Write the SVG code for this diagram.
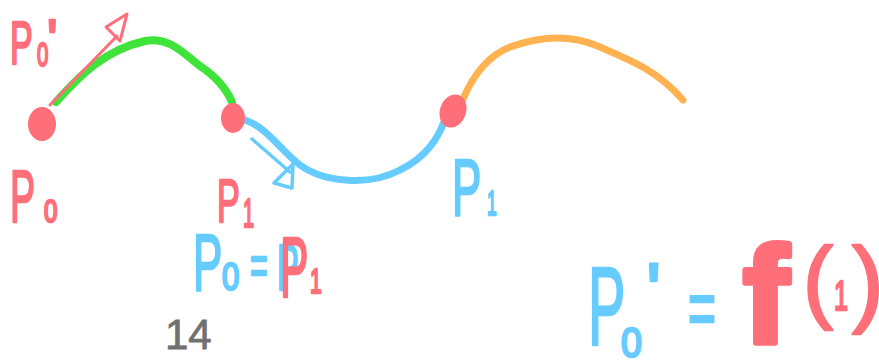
<svg xmlns="http://www.w3.org/2000/svg" width="879" height="361" viewBox="0 0 879 361">
<style>
.red{fill:#ff6f7a;stroke:#ff6f7a;stroke-width:2.5;stroke-linejoin:round}
.blue{fill:#66ccff;stroke:#66ccff;stroke-width:2.5;stroke-linejoin:round}
.dot{fill:#ff6f7a}
.t{font-family:"Liberation Sans","DejaVu Sans",sans-serif}
.seg{fill:none;stroke-linecap:round;stroke-linejoin:round}
.head{fill:none;stroke-linejoin:round;stroke-linecap:round}
</style>
<rect width="879" height="361" fill="#ffffff"/>
<g id="connectors">
  <path class="seg" d="M56,102 C80,75 105,50 145,41 C170,36 185,55 200,66 C215,76 226,88 232,102" stroke="#3fe33a" stroke-width="8"/>
  <path class="seg" d="M245,120 C268,128 280,150 300,165 C325,183 370,186 400,170 C425,158 440,138 447,113" stroke="#66ccff" stroke-width="7"/>
  <path class="seg" d="M463,99 C472,78 487,56 510,47 C535,38 565,33 595,45 C625,58 655,68 683,100" stroke="#ffb24f" stroke-width="7"/>
  <line class="seg" x1="50" y1="105" x2="117" y2="36" stroke="#ff6f7a" stroke-width="3"/>
  <polygon class="head" points="106,27 127,14 120,41" stroke="#ff6f7a" stroke-width="3"/>
  <line class="seg" x1="252" y1="139" x2="290" y2="172" stroke="#66ccff" stroke-width="3.5"/>
  <polygon class="head" points="274,183 293,164 292,188" stroke="#66ccff" stroke-width="3.5"/>
</g>
<g id="p0">
  <ellipse cx="42" cy="124" rx="14" ry="17" class="dot"/>
  <text class="t red" font-size="75" transform="translate(10,222) scale(0.5,1)">P</text>
  <text class="t red" font-size="32" transform="translate(44,222) scale(0.75,1)">0</text>
</g>
<g id="p0prime">
  <text class="t red" font-size="62" transform="translate(10,64) scale(0.55,1)">P</text>
  <text class="t red" font-size="34" transform="translate(37,66) scale(0.6,1)">0</text>
  <text class="t red" font-size="55" transform="translate(47,58)">'</text>
</g>
<g id="p1">
  <ellipse cx="233" cy="118" rx="12" ry="15" class="dot"/>
  <text class="t red" font-size="62" transform="translate(217,222) scale(0.55,1)">P</text>
  <text class="t red" font-size="40" transform="translate(243,227) scale(0.5,1)">1</text>
</g>
<g id="p1b">
  <ellipse cx="453" cy="111" rx="13" ry="17" transform="rotate(20 453 111)" class="dot"/>
  <text class="t blue" font-size="80" transform="translate(452,215) scale(0.55,1)">P</text>
  <text class="t blue" font-size="35" transform="translate(487,215) scale(0.5,1)">1</text>
</g>
<g id="eq1">
  <text class="t blue" font-size="80" transform="translate(193,290) scale(0.55,1)">P</text>
  <text class="t blue" font-size="39" transform="translate(222,290) scale(0.8,1)">0</text>
  <text class="t blue" font-size="55" transform="translate(250,284) scale(0.55,1)">=</text>
  <text class="t blue" font-size="65" transform="translate(277,290) scale(0.5,1)">P</text>
  <text class="t red" font-size="85" transform="translate(280,297) scale(0.5,1)">P</text>
  <text class="t red" font-size="35" transform="translate(310,293) scale(0.6,1)">1</text>
</g>
<g id="eq2">
  <text class="t blue" font-size="112" transform="translate(588,345) scale(0.5,1)">P</text>
  <text class="t blue" font-size="42" transform="translate(621,357) scale(0.9,1)">0</text>
  <text class="t blue" font-size="80" transform="translate(646,319)">'</text>
  <text class="t blue" font-size="80" transform="translate(688,335) scale(0.6,1)">=</text>
  <text class="t red" font-size="138" font-weight="bold" transform="translate(743,343)" style="stroke-width:6">f</text>
  <text class="t red" font-size="90" transform="translate(803,311)">(</text>
  <text class="t red" font-size="42" transform="translate(834,310) scale(0.6,1)">1</text>
  <text class="t red" font-size="95" transform="translate(852,314)">)</text>
</g>
<g id="page">
  <text class="t" x="165" y="349" font-size="42" fill="#707070" stroke="#707070" stroke-width="0.8">14</text>
</g>
</svg>
